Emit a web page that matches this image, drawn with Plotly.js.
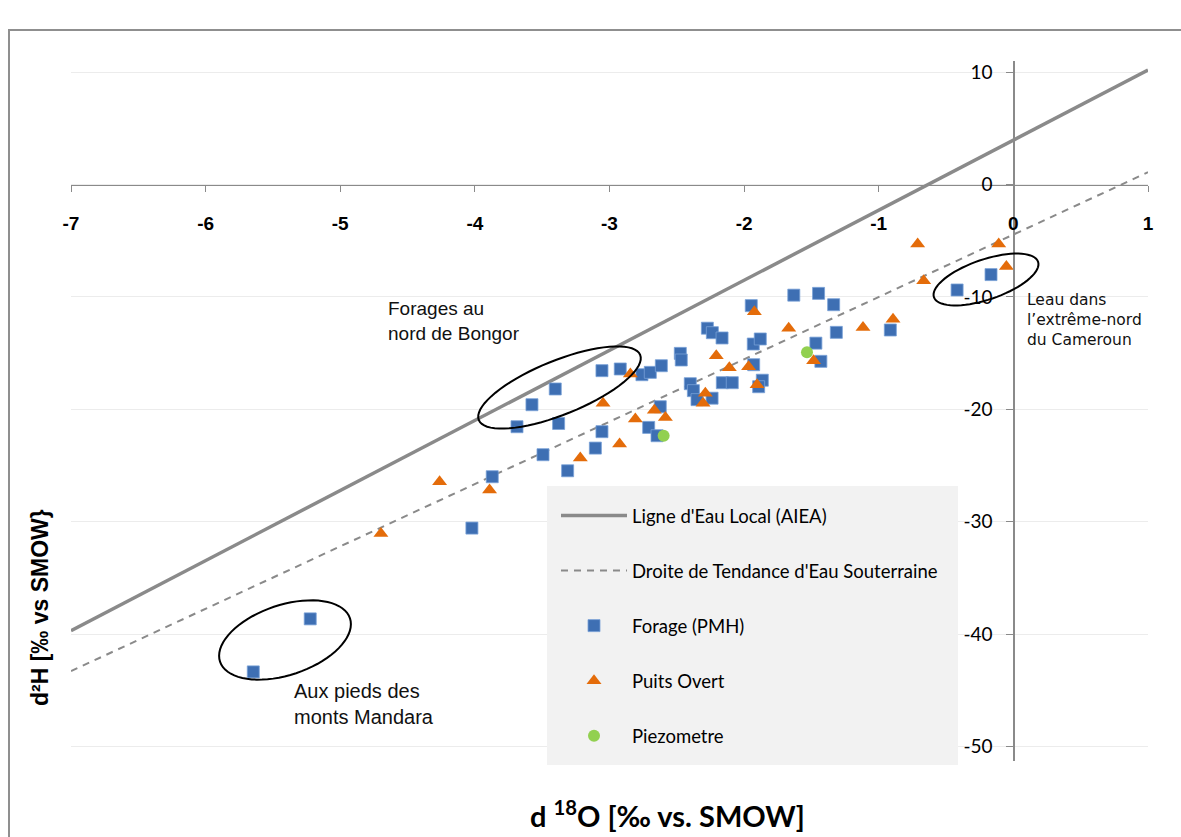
<!DOCTYPE html>
<html>
<head>
<meta charset="utf-8">
<script src="https://cdn.plot.ly/plotly-3.0.1.min.js"></script>
<style>html,body{margin:0;padding:0;background:#fff;}#chart{width:1181px;height:837px;}</style>
</head>
<body>
<div id="chart"></div>
<script>
// ---- data ----
const forageX = [-5.646,-5.223,-4.022,-3.871,-3.687,-3.576,-3.403,-3.378,-3.494,-3.311,-3.105,-3.056,-3.056,-2.920,-2.759,-2.697,-2.615,-2.623,-2.709,-2.647,-2.474,-2.467,-2.273,-2.236,-2.164,-2.400,-2.377,-2.350,-2.238,-2.162,-2.088,-1.947,-1.932,-1.880,-1.929,-1.865,-1.892,-1.631,-1.447,-1.335,-1.315,-1.467,-1.430,-0.914,-0.418,-0.166];
const forageY = [-43.37,-38.65,-30.57,-26.00,-21.55,-19.59,-18.19,-21.26,-24.04,-25.47,-23.45,-21.99,-16.56,-16.41,-16.92,-16.71,-16.12,-19.77,-21.61,-22.35,-15.02,-15.61,-12.78,-13.18,-13.65,-17.72,-18.34,-19.14,-19.01,-17.63,-17.63,-10.77,-14.19,-13.74,-16.03,-17.41,-17.99,-9.84,-9.68,-10.69,-13.15,-14.11,-15.73,-12.94,-9.38,-8.01];
const puitsX = [-4.698,-4.262,-3.891,-3.217,-2.925,-3.048,-2.845,-2.808,-2.667,-2.585,-2.305,-2.288,-2.207,-2.110,-1.967,-1.904,-1.924,-1.669,-1.484,-1.117,-0.894,-0.711,-0.666,-0.109,-0.052];
const puitsY = [-31.05,-26.45,-27.19,-24.34,-23.09,-19.46,-16.86,-20.86,-20.08,-20.72,-19.47,-18.57,-15.23,-16.30,-16.21,-17.81,-11.31,-12.78,-15.67,-12.71,-11.98,-5.28,-8.55,-5.28,-7.30];
const piezoX = [-2.598,-1.533];
const piezoY = [-22.35,-14.93];
const lmwlX = [-7, 1];
const lmwlY = [-39.7, 10.2];
const trendX = [-7, 1];
const trendY = [-43.3, 1.1];
const xTicks = [-7,-6,-5,-4,-3,-2,-1,0,1];
const yTicks = [10,0,-10,-20,-30,-40,-50];
const seriesNames = ["Ligne d'Eau Local (AIEA)", "Droite de Tendance d'Eau Souterraine", "Forage (PMH)", "Puits Overt", "Piezometre"];

// ---- layout geometry ----
const W = 1181, H = 837;
const M = {l: 71, r: 33, t: 61, b: 76};
const xRange = [-7, 1], yRange = [-51.3, 11];
const pw = W - M.l - M.r, ph = H - M.t - M.b;
const pxX = pw / (xRange[1] - xRange[0]);
const pxY = ph / (yRange[1] - yRange[0]);
function px2x(p){ return xRange[0] + (p - M.l) / pxX; }
function px2y(p){ return yRange[1] - (p - M.t) / pxY; }
function px2paperX(p){ return (p - M.l) / pw; }
function px2paperY(p){ return (H - M.b - p) / ph; }

// rotated ellipse in pixel space -> data path
function ellipsePath(cx, cy, a, b, angDeg){
  const t = -angDeg * Math.PI / 180;
  let d = '';
  for (let i = 0; i <= 72; i++){
    const th = i / 72 * 2 * Math.PI;
    const ex = a * Math.cos(th), ey = b * Math.sin(th);
    const X = cx + ex * Math.cos(t) - ey * Math.sin(t);
    const Y = cy + ex * Math.sin(t) + ey * Math.cos(t);
    d += (i === 0 ? 'M' : 'L') + px2x(X).toFixed(4) + ',' + px2y(Y).toFixed(4);
  }
  return d + 'Z';
}

const grey = '#8a8a8a';
const traces = [
  {x: lmwlX, y: lmwlY, mode: 'lines', name: seriesNames[0], legendgroup: 'a',
   line: {color: grey, width: 3.5}, hoverinfo: 'skip'},
  {x: trendX, y: trendY, mode: 'lines', name: seriesNames[1], legendgroup: 'b',
   line: {color: grey, width: 2, dash: '7px,6px'}, hoverinfo: 'skip'},
  {x: forageX, y: forageY, mode: 'markers', name: seriesNames[2], legendgroup: 'c',
   marker: {symbol: 'square', size: 12, color: '#3e6fb3', line: {color: 'rgba(120,160,215,0.8)', width: 1}}},
  {x: puitsX, y: puitsY, mode: 'markers', name: seriesNames[3], legendgroup: 'd',
   marker: {symbol: 'triangle-up', size: 13, color: '#e46c0a', line: {width: 0}}},
  {x: piezoX, y: piezoY, mode: 'markers', name: seriesNames[4], legendgroup: 'e',
   marker: {symbol: 'circle', size: 12, color: '#92d050', line: {width: 0}}}
];

const annFont = {family: 'Liberation Sans, Arial, sans-serif', size: 19, color: '#111'};
const layout = {
  width: W, height: H,
  margin: M,
  paper_bgcolor: '#fff', plot_bgcolor: '#fff',
  showlegend: true,
  xaxis: {
    range: xRange, tickvals: xTicks, ticktext: xTicks.map(String),
    anchor: 'free', position: (0 - yRange[0]) / (yRange[1] - yRange[0]),
    showline: true, linecolor: grey, linewidth: 1.5,
    ticks: 'outside', ticklen: 6, tickcolor: grey, ticklabelstandoff: 15,
    showgrid: false, zeroline: false,
    tickfont: {family: 'Liberation Sans, Arial, sans-serif', size: 19, color: '#000', weight: 'bold'}
  },
  yaxis: {
    range: yRange, tickvals: yTicks, ticktext: yTicks.map(String),
    anchor: 'free', position: (0 - xRange[0]) / (xRange[1] - xRange[0]),
    showline: true, linecolor: grey, linewidth: 1.5,
    ticks: 'outside', ticklen: 7, tickcolor: grey, ticklabelstandoff: 10,
    showgrid: true, gridcolor: '#ececec', gridwidth: 1, zeroline: false,
    tickfont: {family: 'Lato, Liberation Sans, sans-serif', size: 19, color: '#000'}
  },
  legend: {
    x: px2paperX(556), y: px2paperY(497), xanchor: 'left', yanchor: 'top',
    bgcolor: 'rgba(0,0,0,0)', borderwidth: 0, tracegroupgap: 28, itemwidth: 66,
    font: {family: 'Lato, sans-serif', size: 18.5, color: '#000'}
  },
  shapes: [
    {type: 'rect', xref: 'paper', yref: 'paper', layer: 'above',
     x0: px2paperX(547), x1: px2paperX(958), y0: px2paperY(765), y1: px2paperY(486),
     fillcolor: '#f2f2f2', line: {width: 0}},
    {type: 'rect', xref: 'paper', yref: 'paper', layer: 'below',
     x0: px2paperX(9), x1: px2paperX(1300), y0: px2paperY(900), y1: px2paperY(30),
     fillcolor: 'rgba(0,0,0,0)', line: {color: '#8f8f8f', width: 2}},
    {type: 'path', xref: 'x', yref: 'y', layer: 'above', path: ellipsePath(559.5, 387.5, 87, 27, 22), line: {color: '#000', width: 2}},
    {type: 'path', xref: 'x', yref: 'y', layer: 'above', path: ellipsePath(986, 279.5, 55, 20, 18.8), line: {color: '#000', width: 2}},
    {type: 'path', xref: 'x', yref: 'y', layer: 'above', path: ellipsePath(285, 640, 68.5, 35, 18.5), line: {color: '#000', width: 2}}
  ],
  annotations: [
    {xref: 'x', yref: 'y', x: px2x(386), y: px2y(321), xanchor: 'left', yanchor: 'middle', align: 'left', showarrow: false,
     text: 'Forages au<br>nord de Bongor', font: annFont},
    {xref: 'x', yref: 'y', x: px2x(1025), y: px2y(320), xanchor: 'left', yanchor: 'middle', align: 'left', showarrow: false,
     text: 'Leau dans<br>l\u2019extrême-nord<br>du Cameroun', font: {family: 'DejaVu Sans, sans-serif', size: 15.5, color: '#111'}},
    {xref: 'x', yref: 'y', x: px2x(292), y: px2y(704), xanchor: 'left', yanchor: 'middle', align: 'left', showarrow: false,
     text: 'Aux pieds des<br>monts Mandara', font: {family: 'Liberation Sans, Arial, sans-serif', size: 20, color: '#111'}},
    {xref: 'paper', yref: 'paper', x: px2paperX(667), y: px2paperY(814), xanchor: 'center', yanchor: 'middle', showarrow: false,
     text: 'd <sup>18</sup>O [‰ vs. SMOW]', font: {family: 'Lato, Open Sans, sans-serif', size: 29, color: '#000', weight: 'bold'}},
    {xref: 'paper', yref: 'paper', x: px2paperX(40), y: px2paperY(608), xanchor: 'center', yanchor: 'middle', showarrow: false, textangle: -90,
     text: 'd²H [‰ vs SMOW}', font: {family: 'Liberation Sans, Arial, sans-serif', size: 23, color: '#000', weight: 'bold'}}
  ]
};

Plotly.newPlot('chart', traces, layout, {displayModeBar: false, staticPlot: true});
</script>
</body>
</html>
